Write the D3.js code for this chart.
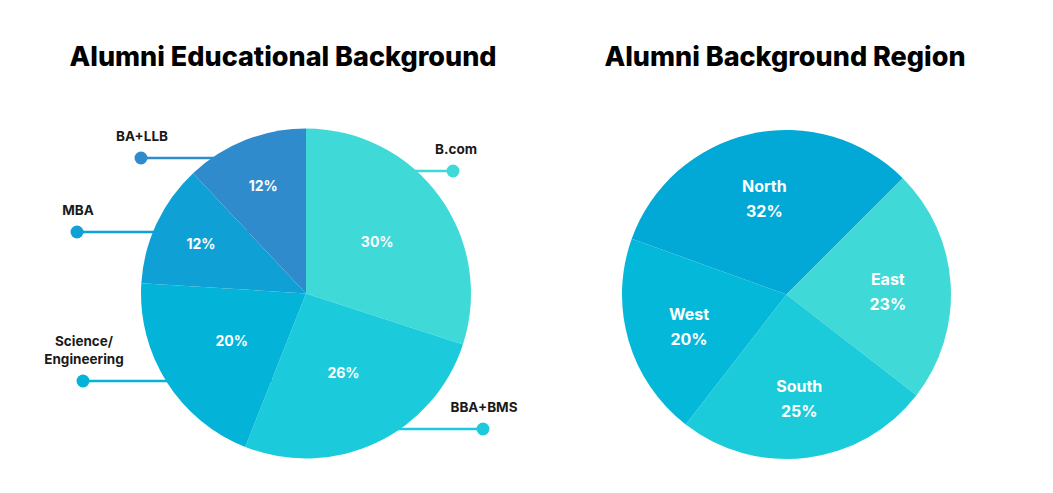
<!DOCTYPE html>
<meta charset="utf-8">
<html>
<head>
<script src="https://d3js.org/d3.v7.min.js"></script>
<style>
body { margin: 0; background: #ffffff; }
text { font-family: Inter, "Open Sans", sans-serif; font-weight: 700; }
</style>
</head>
<body>
<div id="chart"></div>
<script>

// left pie: educational background
var eduNames = ["B.com", "BBA+BMS", "Science/Engineering", "MBA", "BA+LLB"];
var eduValues = [30, 26, 20, 12, 12];
var eduColors = ["#3fd9d8", "#1ccbdb", "#03b3d8", "#0fa0d5", "#2f8bcb"];

// right pie: region
var regionNames = ["North", "East", "South", "West"];
var regionValues = [32, 23, 25, 20];
var regionColors = ["#02a8d6", "#3fd9d8", "#1bcbda", "#03b8d8"];

// callout layout for the left pie (dot x, line y)
var calloutX = [453, 483, 83, 77, 141];
var calloutY = [171, 429, 381, 232, 158];

var width = 1053, height = 493;

var svg = d3.select("#chart")
  .append("svg")
    .attr("width", width)
    .attr("height", height);

// titles
svg.append("text")
  .attr("x", 283).attr("y", 66)
  .attr("text-anchor", "middle")
  .style("font-size", "27px")
  .style("font-weight", 800)
  .style("fill", "#000")
  .text("Alumni Educational Background");

svg.append("text")
  .attr("x", 785).attr("y", 66)
  .attr("text-anchor", "middle")
  .style("font-size", "27px")
  .style("font-weight", 800)
  .style("fill", "#000")
  .text("Alumni Background Region");

// ---------- left pie ----------
var R1 = 165;
// callouts go first so the slices cover the inner part of the lines
var callouts = svg.append("g");
var g1 = svg.append("g").attr("transform", "translate(306,293.5)");

var pie1 = d3.pie().sort(null).value(function(d) { return d; });
var arcs1 = pie1(eduValues);
var arc1 = d3.arc().innerRadius(0).outerRadius(R1);

arcs1.forEach(function(a, i) {
  var cy = calloutY[i];
  callouts.append("line")
    .attr("x1", calloutX[i]).attr("y1", cy)
    .attr("x2", 306).attr("y2", cy)
    .attr("stroke", eduColors[i])
    .attr("stroke-width", 2.5);
  callouts.append("circle")
    .attr("cx", calloutX[i]).attr("cy", cy)
    .attr("r", 6.5)
    .style("fill", eduColors[i]);
  var lines = eduNames[i] == "Science/Engineering" ? ["Science/", "Engineering"] : [eduNames[i]];
  lines.forEach(function(t, k) {
    callouts.append("text")
      .attr("x", calloutX[i] + (i == 0 ? 3 : 1))
      .attr("y", cy - 17 - (lines.length - 1 - k) * 18)
      .attr("text-anchor", "middle")
      .style("font-size", "13.5px")
      .style("fill", "#1a1a1a")
      .text(t);
  });
});

g1.selectAll("path")
  .data(arcs1)
  .enter()
  .append("path")
    .attr("d", arc1)
    .style("fill", function(d, i) { return eduColors[i]; });

// percentage labels
g1.selectAll("text.pct")
  .data(arcs1)
  .enter()
  .append("text")
    .attr("class", "pct")
    .attr("transform", function(d) {
      var r = d.value < 15 ? 116 : 88;
      var lab = d3.arc().innerRadius(r).outerRadius(r);
      return "translate(" + lab.centroid(d) + ")";
    })
    .attr("text-anchor", "middle")
    .attr("dy", "0.35em")
    .style("font-size", "14px")
    .style("fill", "#fff")
    .text(function(d) { return d.value + "%"; });

// ---------- right pie ----------
var R2 = 164.5;
var g2 = svg.append("g").attr("transform", "translate(786.5,294.5)");

var pie2 = d3.pie().sort(null).value(function(d) { return d; })
  .startAngle(-70.2 * Math.PI / 180)
  .endAngle((360 - 70.2) * Math.PI / 180);
var arcs2 = pie2(regionValues);
var arc2 = d3.arc().innerRadius(0).outerRadius(R2);
var lab2 = d3.arc().innerRadius(0).outerRadius(203);

g2.selectAll("path")
  .data(arcs2)
  .enter()
  .append("path")
    .attr("d", arc2)
    .style("fill", function(d, i) { return regionColors[i]; });

var labels2 = g2.selectAll("g.lab")
  .data(arcs2)
  .enter()
  .append("g")
    .attr("class", "lab")
    .attr("transform", function(d) {
      return "translate(" + lab2.centroid(d) + ")";
    });

labels2.append("text")
  .attr("text-anchor", "middle")
  .attr("y", -3)
  .style("font-size", "16px")
  .style("fill", "#fff")
  .text(function(d, i) { return regionNames[i]; });

labels2.append("text")
  .attr("text-anchor", "middle")
  .attr("y", 22)
  .style("font-size", "16px")
  .style("fill", "#fff")
  .text(function(d) { return d.value + "%"; });

</script>
</body>
</html>
